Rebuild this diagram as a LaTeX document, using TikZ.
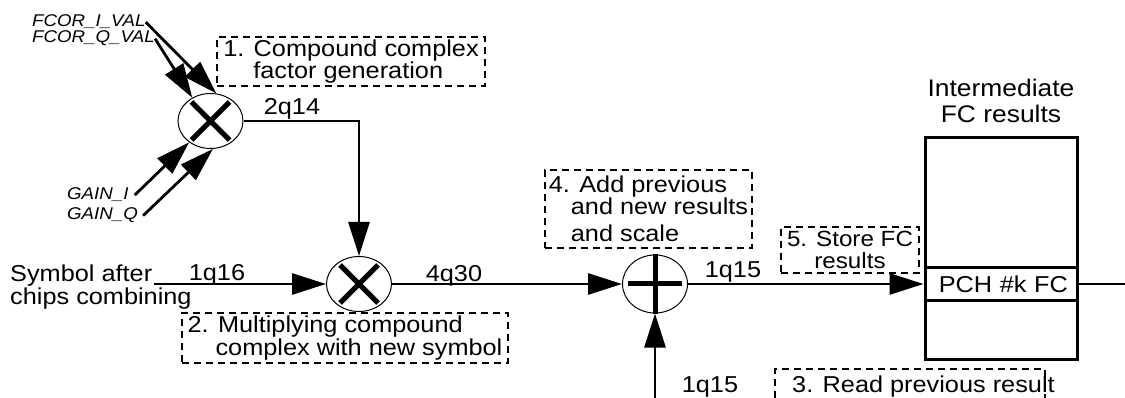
\documentclass[tikz,border=0pt]{standalone}
\usepackage{fontspec}
\setmainfont{Liberation Sans}[FakeStretch=1.1]
\usetikzlibrary{arrows.meta,shapes.geometric,positioning,calc}
\newcommand{\txtfont}{\fontsize{23}{20}\selectfont}
\newcommand{\sigfont}{\fontsize{17}{17}\selectfont\itshape}
\tikzset{
  sig/.style={line width=2.8pt,-{Triangle[length=34pt,width=21pt]}},
  wire/.style={line width=2.8pt},
  oper/.style={ellipse,draw,line width=1pt,minimum width=65pt,minimum height=55pt,inner sep=0pt},
  opsign/.style={line width=5pt},
  dashbox/.style={dashed,dash pattern=on 7pt off 5pt,line width=1.2pt},
  note/.style={dashbox,draw,align=left,inner sep=0pt,font=\txtfont},
  lbl/.style={font=\txtfont,inner sep=0pt},
}
\begin{document}
\begin{tikzpicture}[x=1pt,y=-1pt]
\useasboundingbox (0,0) rectangle (1125,398);
% operators
\node[oper] (m1) at (210.5,121) {};
\node[oper] (m2) at (359,284) {};
\node[oper,minimum height=58pt] (add) at (655,284) {};
\foreach \m in {m1,m2}
  {\draw[opsign,shift={(\m.center)}] (-19,-19) -- (19,19) (-19,19) -- (19,-19);}
\draw[opsign] ($(add.center)+(-27,0)$) -- ($(add.center)+(27,0)$);
\draw[opsign] (add.north) -- (add.south);
% result memory
\node[draw,line width=3pt,minimum width=152pt,minimum height=221pt] (mem) at (1001,248.5) {};
\node[draw,line width=3pt,minimum height=32pt,text width=134pt,inner xsep=9pt,inner ysep=0pt,
  align=right,font=\txtfont] (pch) at (1001,284) {PCH \#k FC};
\node[lbl,align=center,font=\fontsize{24}{26}\selectfont,above=14pt of mem] (memlbl) {Intermediate\\FC results};
% factor inputs
\node[lbl,font=\sigfont,anchor=base west] (fi) at (32,27) {FCOR\_I\_VAL};
\node[lbl,font=\sigfont,anchor=base west] (fq) at (32,43) {FCOR\_Q\_VAL};
\node[lbl,font=\sigfont,anchor=base west] (gi) at (67,200) {GAIN\_I};
\node[lbl,font=\sigfont,anchor=base west] (gq) at (67,220) {GAIN\_Q};
\draw[sig] (fi.east) -- (m1.78);
\draw[sig] (fq.east) -- (m1.128);
\draw[sig] ([xshift=6pt]gi.east) -- (m1.225);
\draw[sig] ([xshift=5pt]gq.east) -- (m1.275);
% main data path
\node[lbl,anchor=west,align=left,font=\fontsize{23}{21}\selectfont] (symtxt) at (10,287) {Symbol after\\chips combining};
\coordinate (symin) at (154,284);
\coordinate (prev) at (655,398);
\coordinate (fcout) at (1125,284);
\draw[sig] (symin) -- (m2);
\draw[sig] (m1.east) -| (m2.north);
\draw[sig] (m2) -- (add);
\draw[sig] (add) -- (pch.west);
\draw[sig] (prev) -- (add);
\draw[wire] (pch.east) -- (fcout);
% word formats
\node[lbl,anchor=base] (w2q14) at (292,115) {2q14};
\node[lbl,anchor=base] (w1q16) at (217,280) {1q16};
\node[lbl,anchor=base] (w4q30) at (454,281) {4q30};
\node[lbl,anchor=base] (w1q15a) at (733,277) {1q15};
\node[lbl,anchor=base] (w1q15b) at (710,392) {1q15};
% processing steps
\node[note,font=\fontsize{23}{19}\selectfont,minimum width=268pt,minimum height=49pt] (n1) at (351,61.5)
  {1. Compound complex\\\hspace*{30pt}factor generation};
\node[note,minimum width=326pt,minimum height=50pt] (n2) at (345,338)
  {2. Multiplying compound\\\hspace*{28pt}complex with new symbol};
\draw[dashbox] (775,398) |- (1045,369) -- (1045,398);
\node[lbl,anchor=base west] (n3) at (792,392) {3. Read previous result};
\node[note,font=\fontsize{23}{21}\selectfont,minimum width=207pt,minimum height=78pt] (n4) at (648.5,209)
  {4. Add previous\\\hspace*{22pt}and new results\\[6pt]\hspace*{22pt}and scale};
\node[note,font=\fontsize{22}{22}\selectfont,align=center,minimum width=138pt,minimum height=46pt] (n5) at (850,250)
  {5. Store FC\\results};
\end{tikzpicture}
\end{document}
